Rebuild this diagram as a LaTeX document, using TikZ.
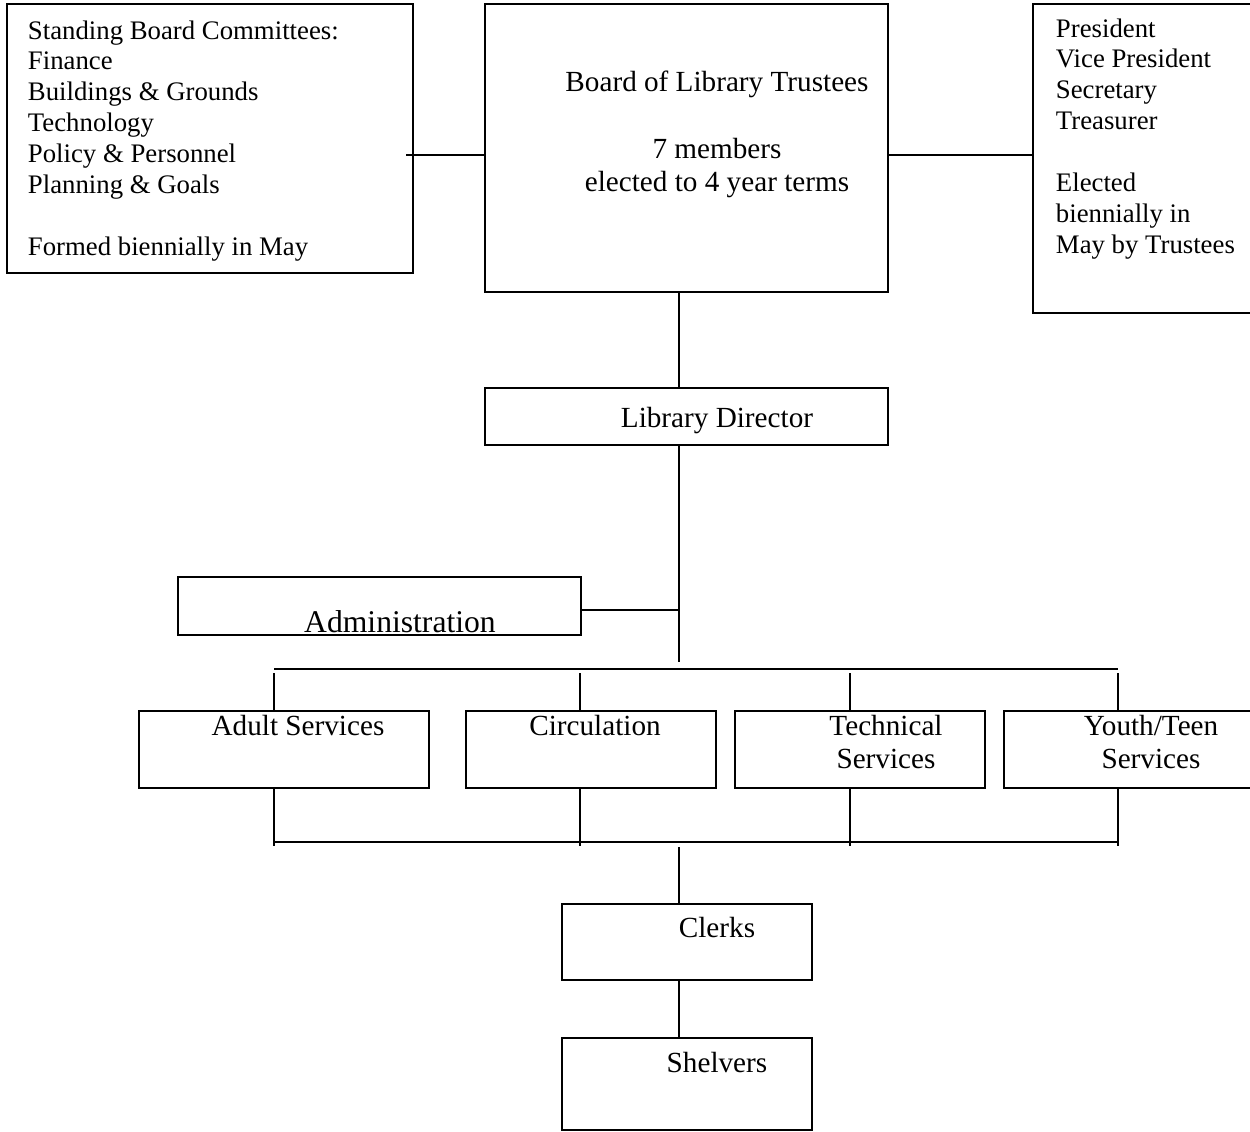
\documentclass[tikz,border=0pt]{standalone}
\usepackage{fontspec}
\setmainfont{Liberation Serif}
\usetikzlibrary{fit}

\begin{document}
\begin{tikzpicture}[x=0.411pt,y=-0.411pt,line width=0.8pt,
  box/.style={draw,inner sep=0pt},
  txt/.style={inner sep=0pt,font=\fontsize{12}{12.7}\selectfont,anchor=base},
  list/.style={txt,anchor=base west,text width=150pt,align=flush left,font=\fontsize{11}{12.7}\selectfont},
  stack/.style={txt,text width=100pt,align=flush center,font=\fontsize{12}{13.6}\selectfont}]
\useasboundingbox (0,0) rectangle (1250,1132);

% boxes
\node[box,fit={(7,4) (413,273)}] (comm) {};
\node[box,fit={(485,4) (888,292)}] (board) {};
\node[box,fit={(1033,4) (1262,313)}] (officers) {};
\node[box,fit={(485,388) (888,445)}] (director) {};
\node[box,fit={(178,577) (581,635)}] (admin) {};
\node[box,fit={(139,711) (429,788)}] (adult) {};
\node[box,fit={(466,711) (716,788)}] (circ) {};
\node[box,fit={(735,711) (985,788)}] (tech) {};
\node[box,fit={(1004,711) (1262,788)}] (youth) {};
\node[box,fit={(562,904) (812,980)}] (clerks) {};
\node[box,fit={(562,1038) (812,1130)}] (shelvers) {};

% texts
\node[list] (commtext) at (27,39) {Standing Board Committees:\\Finance\\Buildings \& Grounds\\Technology\\Policy \& Personnel\\Planning \& Goals\\[12.7pt]Formed biennially in May};
\node[list] (officertext) at (1055,37) {President\\Vice President\\Secretary\\Treasurer\\[12.7pt]Elected\\biennially in\\May by Trustees};
\node[txt,text width=164pt,align=flush center,font=\fontsize{12}{13.8}\selectfont] (boardtext) at (717,91) {Board of Library Trustees\\[13.8pt]7 members\\elected to 4 year terms};
\node[txt] (directortext) at (717,427) {Library Director};
\node[txt,font=\fontsize{13}{15}\selectfont] (admintext) at (400,632) {Administration};
\node[txt] (adulttext) at (298,735) {Adult Services};
\node[txt] (circtext) at (595,735) {Circulation};
\node[stack] (techtext) at (886,735) {Technical\\Services};
\node[stack] (youthtext) at (1151,735) {Youth/Teen\\Services};
\node[txt] (clerkstext) at (717,937) {Clerks};
\node[txt] (shelverstext) at (717,1072) {Shelvers};

% lines
\coordinate (tap) at (406,155);
\coordinate (trunk) at (679,662);
\draw (tap) -- (tap -| board.west);
\draw (board.east |- tap) -- (officers.west |- tap);
\draw (board.south -| trunk) -- (director.north -| trunk);
\draw (director.south -| trunk) -- (trunk);
\draw ([yshift=-1.6pt]admin.east) -- ([yshift=-1.6pt]admin.east -| trunk);

\coordinate (busL) at (274,669);
\coordinate (busR) at (1118,669);
\coordinate (lowL) at (274,842);
\coordinate (lowR) at (1118,842);
\draw (busL) -- (busR);
\draw (lowL) -- (lowR);
\foreach \b/\x in {adult/274,circ/580,tech/850,youth/1118}{
  \coordinate (d\b) at (\x,673);
  \coordinate (e\b) at (\x,846);
  \draw (d\b) -- (d\b |- \b.north);
  \draw (d\b |- \b.south) -- (e\b);
}
\coordinate (clerktap) at (679,847);
\draw (clerktap) -- (clerktap |- clerks.north);
\draw (clerks.south -| clerktap) -- (shelvers.north -| clerktap);
\end{tikzpicture}
\end{document}
